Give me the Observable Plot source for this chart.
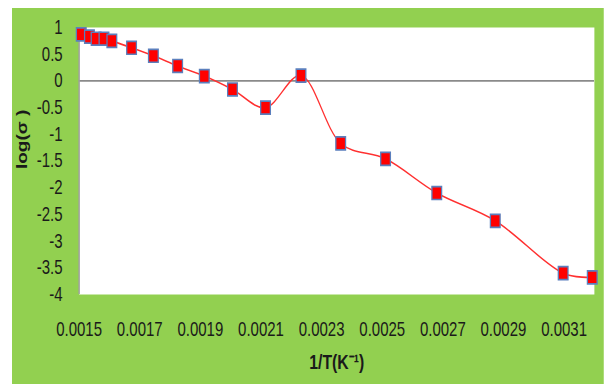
<!DOCTYPE html>
<html>
<head>
<meta charset="utf-8">
<script src="https://cdn.jsdelivr.net/npm/d3@7"></script>
<script src="https://cdn.jsdelivr.net/npm/@observablehq/plot@0.6"></script>
<style>
  html, body { margin: 0; padding: 0; background: #ffffff; }
  /* the chart is drawn in a wider frame and compressed horizontally */
  #chart { position: absolute; left: 12px; top: 8px; width: 789px; height: 376px;
           transform: scaleX(0.75); transform-origin: 0 0; }
  #chart svg { display: block; }
</style>
</head>
<body>
<div id="chart"></div>
<script>
// inverse temperature (1/T, K^-1)
const invT = [0.001507, 0.001534, 0.001556, 0.001582, 0.001608, 0.001673, 0.001745,
              0.001825, 0.001913, 0.002006, 0.002115, 0.002232, 0.002363, 0.002511,
              0.002680, 0.002873, 0.003097, 0.003193];
// log of conductivity
const logSigma = [0.87, 0.83, 0.79, 0.79, 0.75, 0.62, 0.47,
                  0.28, 0.09, -0.16, -0.50, 0.10, -1.17, -1.46,
                  -2.10, -2.62, -3.60, -3.68];
const xTicks = [0.0015, 0.0017, 0.0019, 0.0021, 0.0023, 0.0025, 0.0027, 0.0029, 0.0031];
const yTicks = [1, 0.5, 0, -0.5, -1, -1.5, -2, -2.5, -3, -3.5, -4];
const xTitle = "1/T(K\u207B\u00B9)";
const yTitle = "log(\u03C3 )";

const data = invT.map((x, i) => ({x, y: logSigma[i]}));

const chart = Plot.plot({
  width: 789,
  height: 376,
  marginLeft: 89,
  marginRight: 13,
  marginTop: 19,
  marginBottom: 90,
  style: {
    background: "#92d050",
    fontFamily: "'Liberation Sans', Arial, sans-serif",
    fontSize: "20px",
    color: "#1a1a1a",
    overflow: "visible"
  },
  x: {domain: [0.0015, 0.0032], ticks: xTicks, tickFormat: d => String(d),
      tickSize: 0, tickPadding: 27, label: null},
  y: {domain: [-4, 1], ticks: yTicks, tickFormat: d => String(d),
      tickSize: 0, tickPadding: 22, label: null},
  marks: [
    Plot.frame({fill: "white", stroke: "none"}),
    Plot.ruleY([0], {stroke: "#8a8a8a", strokeWidth: 1.6}),
    Plot.ruleX([0.0015], {stroke: "#a0a0a0", strokeWidth: 2}),
    Plot.line(data, {x: "x", y: "y", curve: "catmull-rom", stroke: "#ff3030", strokeWidth: 1.6}),
    Plot.dot(data, {x: "x", y: "y", symbol: "square", r: 7.3,
                    fill: "#ff0000", stroke: "#5b7fbd", strokeWidth: 1.7}),
    Plot.text([xTitle], {frameAnchor: "bottom", dy: 74, fontWeight: "bold", fontSize: 21, fill: "#1a1a1a"}),
    Plot.text([yTitle], {frameAnchor: "left", rotate: -90, dx: -76, dy: 8,
                         fontWeight: "bold", fontSize: 19, fill: "#1a1a1a"})
  ]
});
document.getElementById("chart").append(chart);
</script>
</body>
</html>
